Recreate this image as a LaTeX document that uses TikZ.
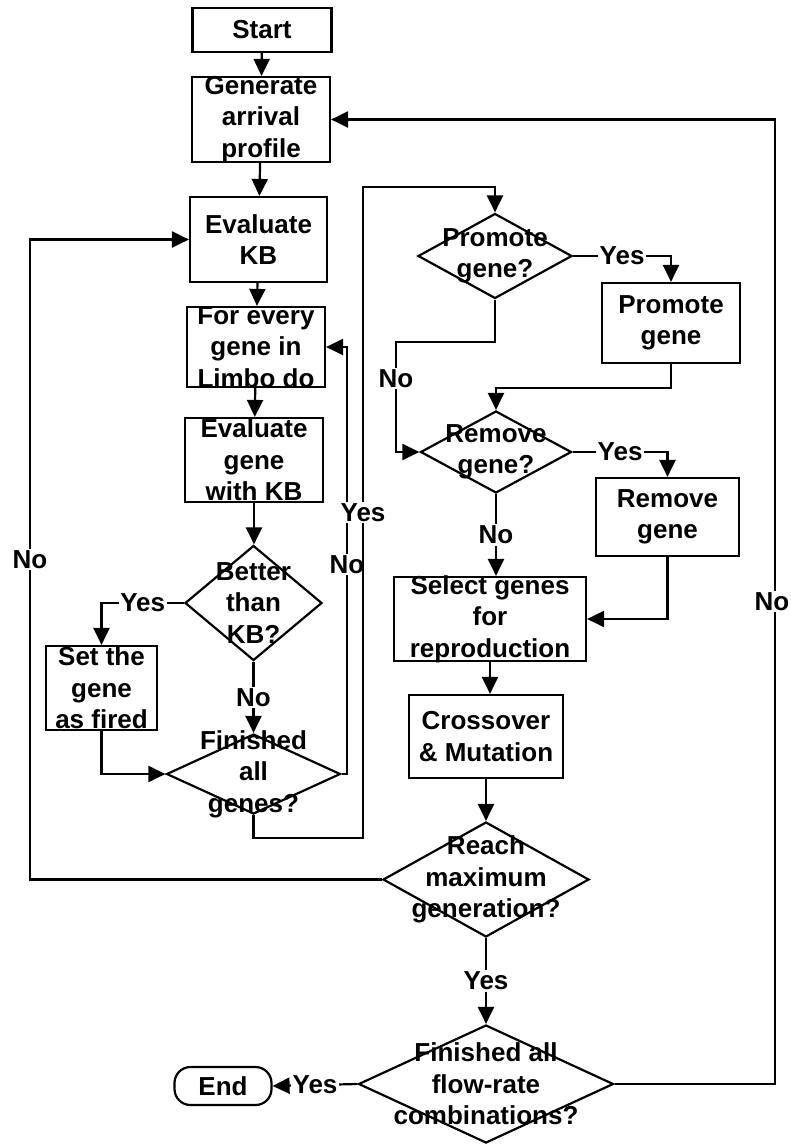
\documentclass[tikz,border=0pt]{standalone}
\usepackage{fontspec}
\newfontfamily\chartfont{Liberation Sans}
\usetikzlibrary{shapes.geometric,arrows.meta}
\begin{document}
\begin{tikzpicture}[x=1pt,y=-1pt,
  chart text/.style={font=\chartfont\bfseries\fontsize{26}{31.5}\selectfont},
  box/.style={draw,line width=2.2pt,inner sep=0pt},
  dia/.style={draw,diamond,line width=2.2pt,inner sep=0pt},
  txt/.style={chart text,align=center,inner sep=0pt},
  lbl/.style={chart text,fill=white,inner sep=1.5pt},
  arr/.style={line width=2.2pt,-{Triangle[length=17pt,width=16pt]}}]
\fill[white] (0,0) rectangle (791,1144);
\useasboundingbox (0,0) rectangle (791,1144);

% main column
\node[box,minimum width=139pt,minimum height=44pt] (start) at (262,30) {};
\node[txt] (start-t) at (start) {Start};
\node[box,minimum width=138pt,minimum height=85pt] (gen) at (261,119.5) {};
\node[txt] (gen-t) at (gen) {Generate\\arrival\\profile};
\node[box,minimum width=137pt,minimum height=85pt] (evkb) at (258.5,239.5) {};
\node[txt] (evkb-t) at (evkb) {Evaluate\\KB};
\node[box,minimum width=138pt,minimum height=80pt] (every) at (256,347) {};
\node[txt] (every-t) at (every) {For every\\gene in\\Limbo do};
\node[box,minimum width=138pt,minimum height=84pt] (evgene) at (254,460) {};
\node[txt] (evgene-t) at (evgene) {Evaluate\\gene\\with KB};
\node[dia,minimum width=137pt,minimum height=115pt] (better) at (253.5,603) {};
\node[txt] (better-t) at (better) {Better\\than\\KB?};
\node[box,minimum width=111pt,minimum height=84pt] (fired) at (101.5,688) {};
\node[txt] (fired-t) at (fired) {Set the\\gene\\as fired};
\node[dia,minimum width=174pt,minimum height=80pt] (allgenes) at (253.5,774) {};
\node[txt] (allgenes-t) at (allgenes) {Finished\\all\\genes?};

% right column
\node[dia,minimum width=154pt,minimum height=85pt] (promq) at (495,256) {};
\node[txt] (promq-t) at (promq) {Promote\\gene?};
\node[box,minimum width=138pt,minimum height=80pt] (prom) at (671,323) {};
\node[txt] (prom-t) at (prom) {Promote\\gene};
\node[dia,minimum width=151pt,minimum height=82pt] (remq) at (496,452) {};
\node[txt] (remq-t) at (remq) {Remove\\gene?};
\node[box,minimum width=143pt,minimum height=78pt] (rem) at (667.5,517) {};
\node[txt] (rem-t) at (rem) {Remove\\gene};
\node[box,minimum width=192pt,minimum height=84pt] (select) at (490,619) {};
\node[txt] (select-t) at (select) {Select genes\\for\\reproduction};
\node[box,minimum width=154pt,minimum height=83pt] (cross) at (486,736.5) {};
\node[txt] (cross-t) at (cross) {Crossover\\\& Mutation};
\node[dia,minimum width=206pt,minimum height=115pt] (reach) at (486,879.5) {};
\node[txt] (reach-t) at (reach) {Reach\\maximum\\generation?};
\node[dia,minimum width=255pt,minimum height=118pt] (flow) at (486,1084) {};
\node[txt] (flow-t) at (flow) {Finished all\\flow-rate\\combinations?};
\node[box,rounded corners=16pt,minimum width=97pt,minimum height=38pt] (end) at (223,1086) {};
\node[txt] (end-t) at (end) {End};

% routing points
\coordinate (inR) at (347,774);
\coordinate (yesB) at (363,838);
\coordinate (yesT) at (363,187);
\coordinate (noL) at (396,342);
\coordinate (outLB) at (30,879.5);
\coordinate (outLT) at (30,239.5);
\coordinate (outRB) at (775,1084);
\coordinate (outRT) at (775,119.5);

% connectors
\draw[arr] (start) -- (gen);
\draw[arr] (gen) -- (evkb);
\draw[arr] (evkb) -- (every);
\draw[arr] (every) -- (evgene);
\draw[arr] (evgene.south) -- (evgene.south |- better.north);
\draw[arr] (better.west) -- node[lbl] (l1) {Yes} (fired.north |- better.west) -- (fired.north);
\draw[arr] (better.south) -- node[lbl] (l2) {No} (allgenes.north);
\draw[arr] (fired.south) |- (allgenes.west);
\draw[arr] (allgenes.east) -- (inR) -- node[lbl,pos=0.49] (l3) {No} (inR |- every.east) -- (every.east);
\draw[arr] (allgenes.south) |- (yesB) -- node[lbl,pos=0.5] (l4) {Yes} (yesT) -| (promq.north);
\draw[arr] (promq.east) -- node[lbl] (l5) {Yes} (prom.north |- promq.east) -- (prom.north);
\draw[arr] (prom.south) -- ++(0,24) -| (remq.north);
\draw[arr] (promq.south) |- (noL) -- node[lbl,pos=0.33] (l6) {No} (noL |- remq.west) -- (remq.west);
\draw[arr] (remq.east) -- node[lbl] (l7) {Yes} (rem.north |- remq.east) -- (rem.north);
\draw[arr] (rem.south) |- (select.east);
\draw[arr] (remq.south) -- node[lbl] (l8) {No} (remq.south |- select.north);
\draw[arr] (select.south) -- (select.south |- cross.north);
\draw[arr] (cross) -- (reach);
\draw[arr] (reach.west) -- (outLB) -- node[lbl] (l9) {No} (outLT) -- (evkb.west);
\draw[arr] (reach.south) -- node[lbl] (l10) {Yes} (flow.north);
\draw[arr] (flow.west) -- node[lbl] (l11) {Yes} (end.east);
\draw[arr] (flow.east) -- (outRB) -- node[lbl,xshift=-3pt] (l12) {No} (outRT) -- (gen.east);
\end{tikzpicture}
\end{document}
